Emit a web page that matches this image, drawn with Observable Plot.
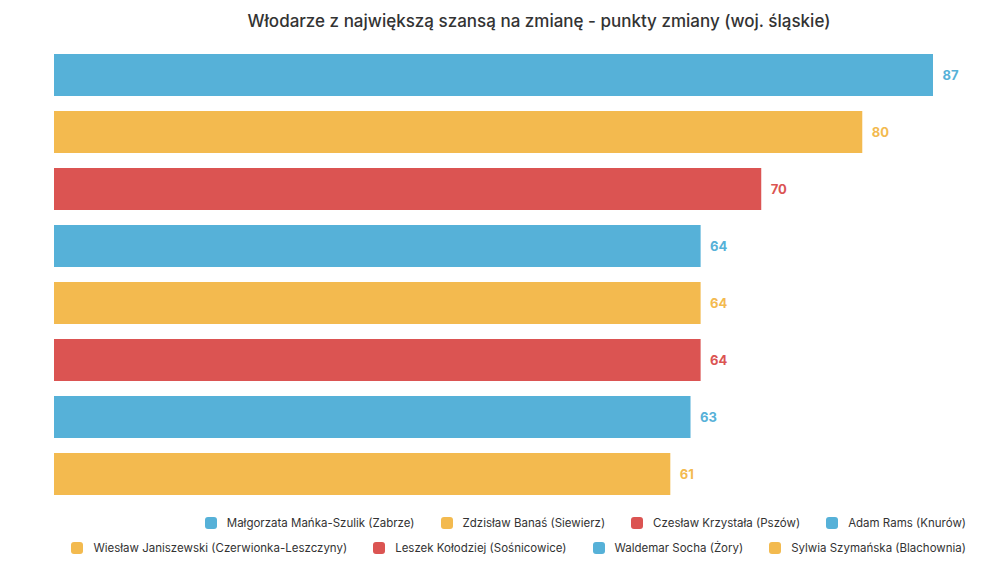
<!DOCTYPE html>
<html><head><meta charset="utf-8">
<script src="https://cdn.jsdelivr.net/npm/d3@7"></script>
<script src="https://cdn.jsdelivr.net/npm/@observablehq/plot@0.6"></script>
<style>
body{margin:0;background:#fff;font-family:Inter,"Open Sans",sans-serif;width:1002px;}
#title{height:40px;line-height:42px;text-align:center;font-size:17px;font-weight:500;color:#333;padding-left:76px;}
.legend{display:flex;justify-content:flex-end;gap:0;font-size:11.5px;color:#333;padding-right:36px;height:25px;align-items:center}
.item{display:flex;align-items:center;margin-left:26px}
.sw{width:12px;height:12px;border-radius:3px;margin-right:10px}
</style></head><body>
<div id="title">Włodarze z największą szansą na zmianę - punkty zmiany (woj. śląskie)</div>
<div id="chart"></div>
<div id="legend"></div>
<script>
const names = ["Małgorzata Mańka-Szulik (Zabrze)","Zdzisław Banaś (Siewierz)","Czesław Krzystała (Pszów)","Adam Rams (Knurów)","Wiesław Janiszewski (Czerwionka-Leszczyny)","Leszek Kołodziej (Sośnicowice)","Waldemar Socha (Żory)","Sylwia Szymańska (Blachownia)"];
const values = [87,80,70,64,64,64,63,61];
const colors = ["#56B1D8","#F3BA4F","#DB5452","#56B1D8","#F3BA4F","#DB5452","#56B1D8","#F3BA4F"];
const data = names.map((n,i)=>({name:n,value:values[i],color:colors[i]}));
const plot = Plot.plot({
  width:1002,height:470,marginLeft:54,marginRight:69,marginTop:11,marginBottom:13,
  x:{domain:[0,87],axis:null},
  y:{domain:names,axis:null,padding:0.27,paddingOuter:0},
  marks:[
    Plot.barX(data,{x:"value",y:"name",fill:"color"}),
    Plot.text(data,{x:"value",y:"name",text:d=>String(d.value),fill:"color",dx:9,textAnchor:"start",fontWeight:"bold",fontSize:13})
  ],
  style:{fontFamily:"Inter, 'Open Sans', sans-serif"}
});
document.getElementById("chart").appendChild(plot);
const rows=[[0,1,2,3],[4,5,6,7]];
const L=document.getElementById("legend");
rows.forEach(r=>{const d=document.createElement("div");d.className="legend";
 r.forEach(i=>{d.innerHTML+=`<div class="item"><div class="sw" style="background:${colors[i]}"></div>${names[i]}</div>`});L.appendChild(d);});
</script></body></html>
